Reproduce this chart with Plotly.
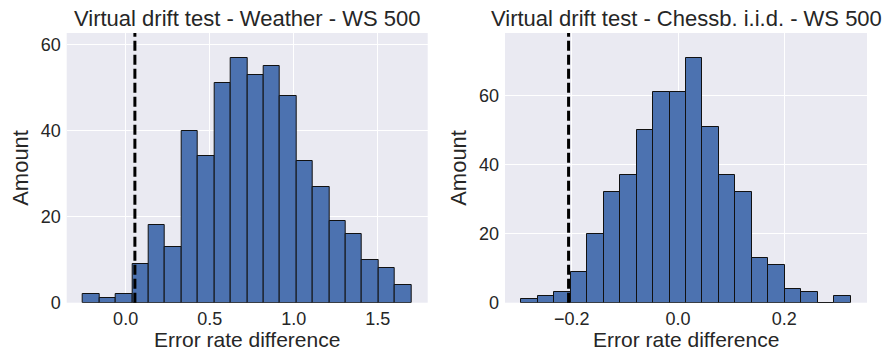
import plotly.graph_objects as go

# ---- data ----
weather_counts = [2, 1, 2, 9, 18, 13, 40, 34, 51, 57, 53, 55, 48, 33, 27, 19, 16, 10, 8, 4]
weather_bin_start = -0.253
weather_bin_width = 0.0976
weather_threshold = 0.055

chess_counts = [1, 2, 3, 9, 20, 32, 37, 50, 61, 61, 71, 51, 37, 32, 13, 11, 4, 3, 0, 2]
chess_bin_start = -0.2947
chess_bin_width = 0.03097
chess_threshold = -0.206

titles = ["Virtual drift test - Weather - WS 500", "Virtual drift test - Chessb. i.i.d. - WS 500"]
x_label = "Error rate difference"
y_label = "Amount"

weather_xticks = [0.0, 0.5, 1.0, 1.5]
weather_xticklabels = ["0.0", "0.5", "1.0", "1.5"]
weather_yticks = [0, 20, 40, 60]
chess_xticks = [-0.2, 0.0, 0.2]
chess_xticklabels = ["\u22120.2", "0.0", "0.2"]
chess_yticks = [0, 20, 40, 60]

# ---- style ----
FONT = "Liberation Sans, Arial, sans-serif"
TXT = "#262626"
BG = "#EAEAF2"
BAR = "#4C72B0"

W, H = 889, 352
left_dom = [66.7 / W, 427.7 / W]
right_dom = [505 / W, 867 / W]
ydom = [1 - 302.7 / H, 1 - 33 / H]

fig = go.Figure()


def centers(start, width, n):
    return [start + width * (i + 0.5) for i in range(n)]


fig.add_trace(go.Bar(
    x=centers(weather_bin_start, weather_bin_width, len(weather_counts)),
    y=weather_counts, width=weather_bin_width,
    marker=dict(color=BAR, line=dict(color="#111111", width=1)),
    xaxis="x", yaxis="y", showlegend=False, hoverinfo="x+y"))
fig.add_trace(go.Bar(
    x=centers(chess_bin_start, chess_bin_width, len(chess_counts)),
    y=chess_counts, width=chess_bin_width,
    marker=dict(color=BAR, line=dict(color="#111111", width=1)),
    xaxis="x2", yaxis="y2", showlegend=False, hoverinfo="x+y"))


def xr(start, width, n):
    lo = start
    hi = start + width * n
    m = (hi - lo) * 0.05
    return [lo - m, hi + m]


axis_common = dict(showgrid=True, gridcolor="white", gridwidth=1.2, zeroline=False,
                   showline=False, ticks="", automargin=False,
                   tickfont=dict(family=FONT, size=18, color=TXT))

fig.update_layout(
    width=W, height=H, margin=dict(l=0, r=0, t=0, b=0, pad=0, autoexpand=False),
    paper_bgcolor="white", plot_bgcolor=BG, bargap=0,
    font=dict(family=FONT, color=TXT),
    xaxis=dict(domain=left_dom, anchor="y", range=xr(weather_bin_start, weather_bin_width, len(weather_counts)),
               tickvals=weather_xticks, ticktext=weather_xticklabels, ticklabelstandoff=3, **axis_common),
    yaxis=dict(domain=ydom, anchor="x", range=[0, max(weather_counts) * 1.1],
               tickvals=weather_yticks, ticklabelstandoff=5, **axis_common),
    xaxis2=dict(domain=right_dom, anchor="y2", range=xr(chess_bin_start, chess_bin_width, len(chess_counts)),
                tickvals=chess_xticks, ticktext=chess_xticklabels, ticklabelstandoff=3, **axis_common),
    yaxis2=dict(domain=ydom, anchor="x2", range=[0, max(chess_counts) * 1.1],
                tickvals=chess_yticks, ticklabelstandoff=5, **axis_common),
)

for xref, yref, thr in [("x", "y domain", weather_threshold), ("x2", "y2 domain", chess_threshold)]:
    fig.add_shape(type="line", xref=xref, yref=yref, x0=thr, x1=thr, y0=0, y1=1,
                  line=dict(color="black", width=3, dash="10px,4px"), layer="above")

for dom, title in [(left_dom, titles[0]), (right_dom, titles[1])]:
    cx = (dom[0] + dom[1]) / 2
    fig.add_annotation(text=title, x=cx, y=ydom[1], xref="paper", yref="paper",
                       xanchor="center", yanchor="bottom", yshift=0, showarrow=False,
                       font=dict(family=FONT, size=22, color=TXT))
    fig.add_annotation(text=x_label, x=cx, y=0, xref="paper", yref="paper",
                       xanchor="center", yanchor="bottom", yshift=-1, showarrow=False,
                       font=dict(family=FONT, size=21, color=TXT))

for xpix in [21, 459]:
    fig.add_annotation(text=y_label, x=xpix / W, y=(ydom[0] + ydom[1]) / 2, xref="paper", yref="paper",
                       xanchor="center", yanchor="middle", textangle=-90, showarrow=False,
                       font=dict(family=FONT, size=22, color=TXT))

fig.write_html("out.html")
